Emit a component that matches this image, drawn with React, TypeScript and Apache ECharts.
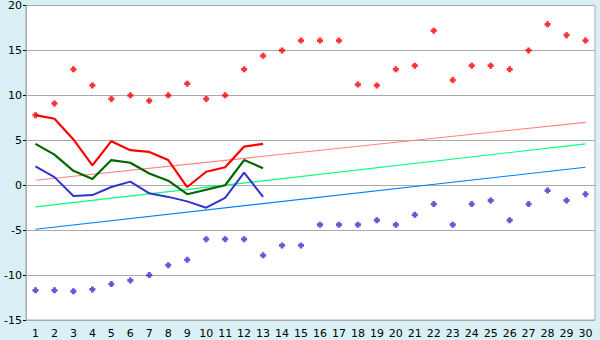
import React, { useEffect, useRef } from "react";
import * as echarts from "echarts";

const days = Array.from({ length: 30 }, (_, i) => String(i + 1));

const maxPoints = [7.8, 9.1, 12.9, 11.1, 9.6, 10.0, 9.4, 10.0, 11.3, 9.6, 10.0, 12.9, 14.4, 15.0, 16.1, 16.1, 16.1, 11.2, 11.1, 12.9, 13.3, 17.2, 11.7, 13.3, 13.3, 12.9, 15.0, 17.9, 16.7, 16.1];
const minPoints = [-11.7, -11.7, -11.8, -11.6, -11.0, -10.6, -10.0, -8.9, -8.3, -6.0, -6.0, -6.0, -7.8, -6.7, -6.7, -4.4, -4.4, -4.4, -3.9, -4.4, -3.3, -2.1, -4.4, -2.1, -1.7, -3.9, -2.1, -0.6, -1.7, -1.0];

const maxLine = [7.8, 7.4, 5.1, 2.2, 4.9, 3.9, 3.7, 2.8, -0.2, 1.5, 2.0, 4.3, 4.6];
const meanLine = [4.6, 3.4, 1.6, 0.7, 2.8, 2.5, 1.3, 0.5, -1.0, -0.5, 0.0, 2.8, 1.9];
const minLine = [2.1, 0.9, -1.2, -1.1, -0.2, 0.4, -0.9, -1.3, -1.8, -2.5, -1.4, 1.4, -1.3];

const normalMax = [0.55, 7.0];
const normalMean = [-2.4, 4.6];
const normalMin = [-4.9, 2.0];

const plus = "path://M1.6,0H4.4V1.6H6V4.4H4.4V6H1.6V4.4H0V1.6H1.6Z";

export default function App() {
  const ref = useRef<HTMLDivElement>(null);
  useEffect(() => {
    const chart = echarts.init(ref.current!, null, { renderer: "svg" });
    const last = days.length - 1;
    const trend = (vals: number[], color: string) => ({
      type: "line",
      data: [[0, vals[0]], [last, vals[1]]],
      symbol: "none",
      lineStyle: { color, width: 1.2 },
      z: 2,
    });
    chart.setOption({
      animation: false,
      backgroundColor: "#d9f0f6",
      grid: {
        left: 26,
        right: 5,
        top: 5,
        bottom: 20,
        show: true,
        backgroundColor: "#ffffff",
        borderColor: "#aaaaaa",
        borderWidth: 1,
      },
      xAxis: {
        type: "category",
        data: days,
        boundaryGap: true,
        axisLine: { lineStyle: { color: "#aaaaaa" } },
        axisTick: { alignWithLabel: true, length: 6, lineStyle: { color: "#000000" } },
        axisLabel: { color: "#000000", fontSize: 11, fontFamily: "DejaVu Sans", margin: 8, interval: 0 },
      },
      yAxis: {
        type: "value",
        min: -15,
        max: 20,
        interval: 5,
        axisLine: { show: true, lineStyle: { color: "#aaaaaa" } },
        axisTick: { show: true, length: 3, lineStyle: { color: "#000000" } },
        axisLabel: { color: "#000000", fontSize: 11, fontFamily: "DejaVu Sans", margin: 4 },
        splitLine: { lineStyle: { color: "#aaaaaa" } },
      },
      series: [
        trend(normalMax, "#ff8080"),
        trend(normalMean, "#00ff80"),
        trend(normalMin, "#0080ff"),
        {
          type: "line",
          data: minLine,
          symbol: "none",
          lineStyle: { color: "#3333cc", width: 2 },
          z: 3,
        },
        {
          type: "line",
          data: meanLine,
          symbol: "none",
          lineStyle: { color: "#006600", width: 2.2 },
          z: 3,
        },
        {
          type: "line",
          data: maxLine,
          symbol: "none",
          lineStyle: { color: "#ff0000", width: 2.2 },
          z: 3,
        },
        {
          type: "scatter",
          data: maxPoints,
          symbol: plus,
          symbolSize: 6,
          itemStyle: { color: "#ff0000" },
          z: 4,
        },
        {
          type: "scatter",
          data: minPoints,
          symbol: plus,
          symbolSize: 6,
          itemStyle: { color: "#3333cc" },
          z: 4,
        },
      ],
    });
    return () => chart.dispose();
  }, []);
  return (
    <div
      ref={ref}
      style={{ position: "fixed", left: 0, top: 0, width: 600, height: 340 }}
    />
  );
}
